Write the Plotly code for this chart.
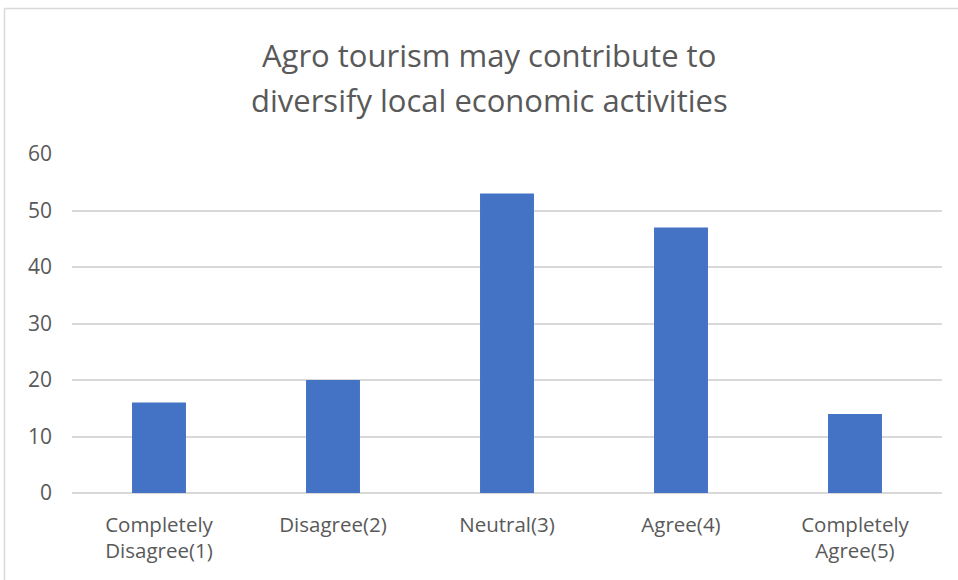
import plotly.graph_objects as go

categories = ["Completely<br>Disagree(1)", "Disagree(2)", "Neutral(3)", "Agree(4)", "Completely<br>Agree(5)"]
responses = [16, 20, 53, 47, 14]
y_ticks = [0, 10, 20, 30, 40, 50, 60]
title_lines = ["Agro tourism may contribute to", "diversify local economic activities"]

W, H = 958, 580
L, R, T, B = 72, 16, 154, 87
pw, ph = W - L - R, H - T - B

def px_to_paper_x(px):
    return (px - L) / pw

def px_to_paper_y(py):
    return (H - B - py) / ph

text_color = "#595959"
grid_color = "#d9d9d9"
font_family = "'Open Sans', Lato, sans-serif"

fig = go.Figure(
    go.Bar(
        x=categories,
        y=responses,
        marker=dict(color="#4472C4", line=dict(width=0)),
        width=0.31,
        hoverinfo="x+y",
    )
)

title_annotations = [
    dict(
        text=line,
        xref="paper", yref="paper",
        x=px_to_paper_x(489), y=px_to_paper_y(cy),
        xanchor="center", yanchor="middle",
        showarrow=False,
        font=dict(size=31, color=text_color, family=font_family),
    )
    for line, cy in zip(title_lines, [55, 100])
]

fig.update_layout(
    width=W,
    height=H,
    margin=dict(l=L, r=R, t=T, b=B, pad=0),
    paper_bgcolor="white",
    plot_bgcolor="white",
    showlegend=False,
    font=dict(family=font_family, color=text_color),
    annotations=title_annotations,
    shapes=[
        # chart frame (left and top edges)
        dict(type="line", xref="paper", yref="paper",
             x0=px_to_paper_x(4.5), x1=px_to_paper_x(4.5),
             y0=px_to_paper_y(600), y1=px_to_paper_y(8.5),
             line=dict(color=grid_color, width=1.5)),
        dict(type="line", xref="paper", yref="paper",
             x0=px_to_paper_x(4.5), x1=px_to_paper_x(970),
             y0=px_to_paper_y(8.5), y1=px_to_paper_y(8.5),
             line=dict(color=grid_color, width=1.5)),
    ],
)

fig.update_xaxes(
    showline=False,
    showgrid=False,
    ticks="",
    ticklabelstandoff=17,
    tickfont=dict(size=20.5, color=text_color, family=font_family),
)
fig.update_yaxes(
    range=[0, 60],
    tickvals=y_ticks,
    showgrid=True,
    gridcolor=grid_color,
    gridwidth=1.5,
    zeroline=True,
    zerolinecolor=grid_color,
    zerolinewidth=1.5,
    showline=False,
    ticks="",
    ticklabelstandoff=19,
    tickfont=dict(size=21, color=text_color, family=font_family),
)

fig.write_html("out.html")
